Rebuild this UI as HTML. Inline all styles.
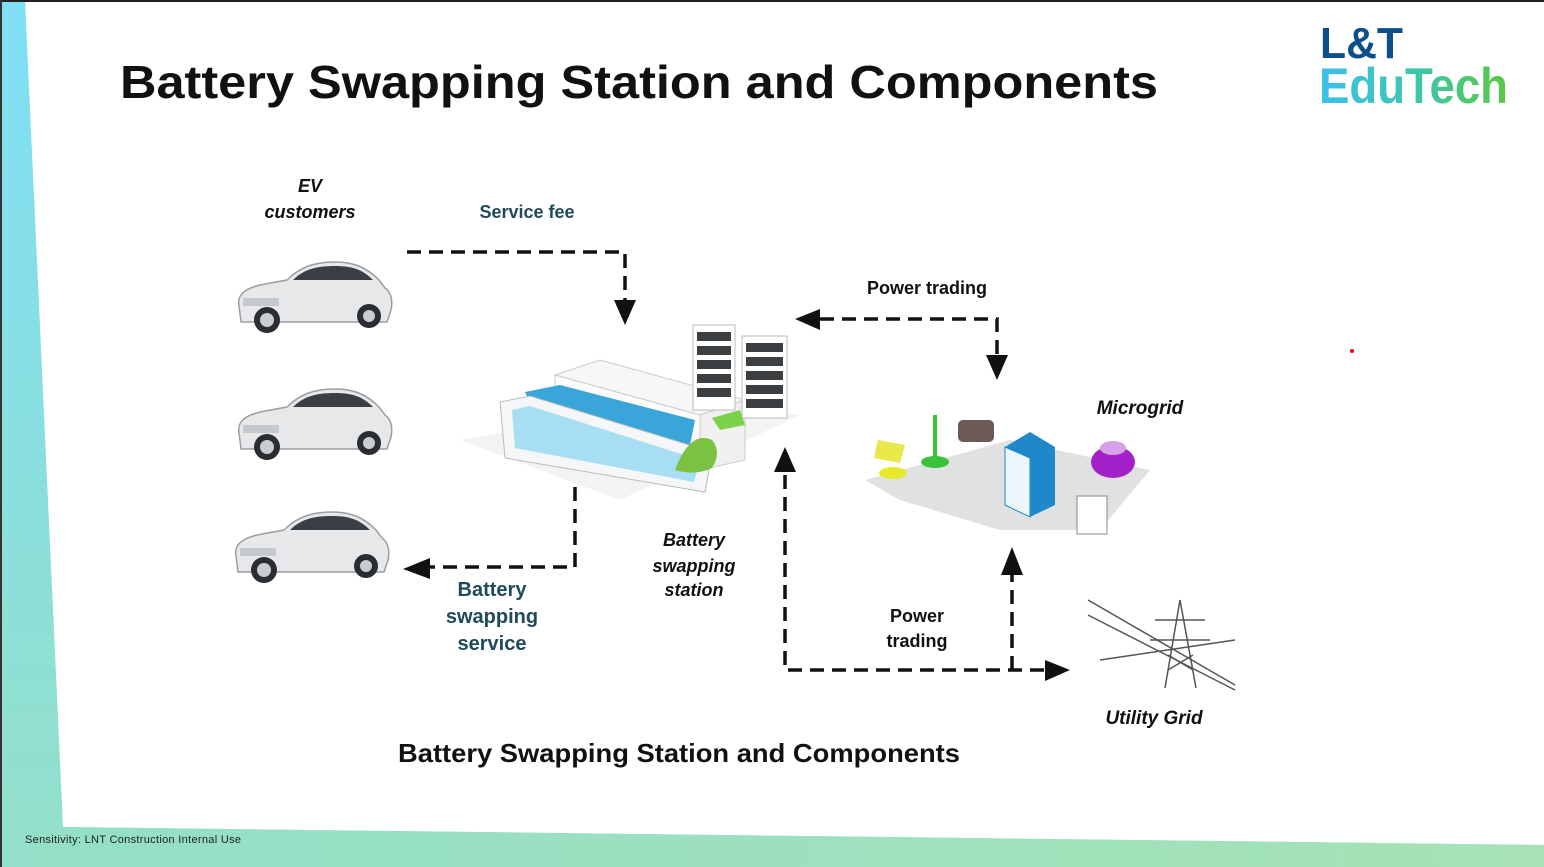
<!DOCTYPE html>
<html><head><meta charset="utf-8"><style>
html,body{margin:0;padding:0;width:1544px;height:867px;overflow:hidden;background:#fff;font-family:"Liberation Sans",sans-serif}
svg{display:block}
</style></head><body>
<svg width="1544" height="867" viewBox="0 0 1544 867" xmlns="http://www.w3.org/2000/svg">
<defs>
<linearGradient id="lg" x1="0" y1="0" x2="0" y2="1">
<stop offset="0" stop-color="#7fdff6"/><stop offset="1" stop-color="#93dfc9"/></linearGradient>
<linearGradient id="bg" x1="0" y1="0" x2="1" y2="0">
<stop offset="0" stop-color="#93dfc9"/><stop offset="1" stop-color="#a6e2b4"/></linearGradient>
<linearGradient id="edu" x1="0" y1="0" x2="1" y2="0">
<stop offset="0" stop-color="#3cc0ea"/><stop offset="0.5" stop-color="#3cc6b0"/><stop offset="1" stop-color="#5cc843"/></linearGradient>
<g id="car">
<path d="M4,48 C2,38 8,30 30,26 L52,22 C64,10 78,4 100,4 C120,4 132,10 144,22 L150,30 C156,34 158,42 156,52 L152,64 L6,64 Z" fill="#e6e8ea" stroke="#9a9ea2" stroke-width="1.5"/>
<path d="M58,22 C68,12 80,8 100,8 C118,8 128,12 138,22 Z" fill="#3a3f45"/>
<rect x="8" y="40" width="36" height="8" fill="#c5c9cd"/>
<circle cx="32" cy="62" r="13" fill="#2a2d31"/><circle cx="32" cy="62" r="7" fill="#c9ccd0"/>
<circle cx="134" cy="58" r="12" fill="#2a2d31"/><circle cx="134" cy="58" r="6" fill="#c9ccd0"/>
</g>
</defs>
<rect width="1544" height="867" fill="#fff"/>
<polygon points="0,0 25,0 63,827 1544,845 1544,867 0,867" fill="url(#lg)"/>
<polygon points="63,827 1544,845 1544,867 0,867 0,827" fill="url(#bg)"/>
<rect x="0" y="0" width="1544" height="2" fill="#222"/>
<rect x="0" y="0" width="2" height="867" fill="#333"/>
<text x="25" y="843" font-size="11" fill="#222" textLength="216">Sensitivity: LNT Construction Internal Use</text>

<text x="120" y="98" font-size="46" font-weight="bold" fill="#111" textLength="1038" lengthAdjust="spacingAndGlyphs">Battery Swapping Station and Components</text>
<text x="1320" y="58" font-size="44" font-weight="bold" fill="#0d4f8a" textLength="83" lengthAdjust="spacingAndGlyphs">L&amp;T</text>
<text x="1319" y="103" font-size="50" font-weight="bold" fill="url(#edu)" textLength="189" lengthAdjust="spacingAndGlyphs">EduTech</text>
<circle cx="1352" cy="351" r="2" fill="#e00"/>

<!-- cars -->
<use href="#car" x="235" y="258"/>
<use href="#car" x="235" y="385"/>
<use href="#car" x="232" y="508"/>

<!-- station -->
<polygon points="460,440 700,400 800,415 620,500" fill="#f2f4f4"/>
<polygon points="555,375 600,360 745,400 700,415" fill="#f7f7f7" stroke="#ccc"/>
<polygon points="555,375 700,415 700,470 555,430" fill="#fbfbfb" stroke="#ccc"/>
<polygon points="700,415 745,400 745,460 700,470" fill="#f0f0f0" stroke="#ccc"/>
<polygon points="525,392 560,385 695,420 690,445 540,425" fill="#3aa5d8"/>
<polygon points="500,402 530,396 712,452 705,492 505,458" fill="#f4f6f7" stroke="#bbb"/>
<polygon points="512,410 530,406 700,460 694,482 515,448" fill="#a8def2"/>
<path d="M675,470 Q690,430 712,440 Q722,452 712,468 Q695,476 675,470Z" fill="#7cc242"/>
<g stroke="#bbb">
<rect x="693" y="325" width="42" height="85" fill="#fff"/>
<rect x="742" y="336" width="45" height="82" fill="#fff"/>
</g>
<g fill="#3c3f42">
<rect x="697" y="332" width="34" height="9"/><rect x="697" y="346" width="34" height="9"/><rect x="697" y="360" width="34" height="9"/><rect x="697" y="374" width="34" height="9"/><rect x="697" y="388" width="34" height="9"/>
<rect x="746" y="343" width="37" height="9"/><rect x="746" y="357" width="37" height="9"/><rect x="746" y="371" width="37" height="9"/><rect x="746" y="385" width="37" height="9"/><rect x="746" y="399" width="37" height="9"/>
</g>
<polygon points="712,418 740,410 745,425 720,430" fill="#7cd14a"/>

<!-- microgrid -->
<polygon points="865,480 1010,440 1150,470 1100,530 1000,530 900,500" fill="#e0e2e2"/>
<polygon points="878,440 905,445 900,463 874,458" fill="#e8e84a"/>
<ellipse cx="893" cy="473" rx="14" ry="6" fill="#e6ea2a"/>
<line x1="935" y1="415" x2="935" y2="460" stroke="#37c43a" stroke-width="4"/>
<ellipse cx="935" cy="462" rx="14" ry="6" fill="#37c43a"/>
<rect x="958" y="420" width="36" height="22" rx="5" fill="#6b5a55"/>
<polygon points="1005,447 1030,432 1055,447 1055,505 1030,517 1005,505" fill="#1e88c8"/>
<polygon points="1005,447 1030,458 1030,517 1005,505" fill="#eef6fb" stroke="#1e88c8"/>
<ellipse cx="1113" cy="462" rx="22" ry="16" fill="#a321c8"/>
<ellipse cx="1113" cy="448" rx="13" ry="7" fill="#d8a0e8"/>
<rect x="1077" y="496" width="30" height="38" fill="#fff" stroke="#888"/>

<!-- utility grid -->
<g stroke="#555" stroke-width="1.5" fill="none">
<line x1="1088" y1="600" x2="1235" y2="685"/><line x1="1088" y1="615" x2="1235" y2="690"/><line x1="1100" y1="660" x2="1235" y2="640"/>
<line x1="1180" y1="600" x2="1165" y2="688"/><line x1="1180" y1="600" x2="1196" y2="688"/>
<line x1="1155" y1="620" x2="1205" y2="620"/><line x1="1150" y1="640" x2="1210" y2="640"/>
<line x1="1168" y1="655" x2="1193" y2="670"/><line x1="1193" y1="655" x2="1168" y2="670"/>
</g>

<!-- dashed connectors -->
<g stroke="#111" stroke-width="3.5" fill="none" stroke-dasharray="14 8">
<polyline points="407,252 625,252 625,300"/>
<polyline points="820,319 997,319 997,355"/>
<polyline points="575,487 575,567 430,567"/>
<polyline points="785,475 785,670 1045,670"/>
<polyline points="1012,670 1012,575"/>
</g>
<g fill="#111">
<polygon points="614,300 636,300 625,325"/>
<polygon points="820,309 820,330 795,319"/>
<polygon points="986,355 1008,355 997,380"/>
<polygon points="430,558 430,579 403,569"/>
<polygon points="774,472 796,472 785,447"/>
<polygon points="1045,660 1045,681 1070,670"/>
<polygon points="1001,575 1023,575 1012,547"/>
</g>

<g font-weight="bold" text-anchor="middle">
<text x="310" y="192" font-size="18" font-style="italic" fill="#111">EV</text>
<text x="310" y="218" font-size="18" font-style="italic" fill="#111">customers</text>
<text x="527" y="218" font-size="18" fill="#1e4a5a">Service fee</text>
<text x="927" y="294" font-size="18" fill="#111">Power trading</text>
<text x="1140" y="414" font-size="19" font-style="italic" fill="#111">Microgrid</text>
<text x="492" y="596" font-size="20" fill="#1e4a5a">Battery</text>
<text x="492" y="623" font-size="20" fill="#1e4a5a">swapping</text>
<text x="492" y="650" font-size="20" fill="#1e4a5a">service</text>
<text x="694" y="546" font-size="18" font-style="italic" fill="#111">Battery</text>
<text x="694" y="572" font-size="18" font-style="italic" fill="#111">swapping</text>
<text x="694" y="596" font-size="18" font-style="italic" fill="#111">station</text>
<text x="917" y="622" font-size="18" fill="#111">Power</text>
<text x="917" y="647" font-size="18" fill="#111">trading</text>
<text x="1154" y="724" font-size="19" font-style="italic" fill="#111">Utility Grid</text>
<text x="679" y="762" font-size="26" fill="#111" textLength="562" lengthAdjust="spacingAndGlyphs">Battery Swapping Station and Components</text>
</g>
</svg>
</body></html>
